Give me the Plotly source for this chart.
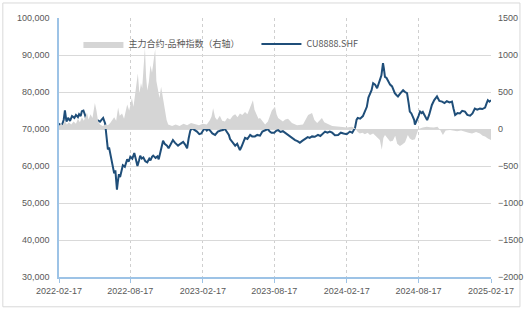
import plotly.graph_objects as go

# ---- CU8888.SHF price (left axis) ----
price_dates = [
"2022-02-17","2022-02-22","2022-02-25","2022-03-01","2022-03-04","2022-03-08","2022-03-12","2022-03-17",
"2022-03-22","2022-03-28","2022-04-01","2022-04-06","2022-04-09","2022-04-13","2022-04-16","2022-04-20",
"2022-04-24","2022-04-28","2022-05-02","2022-05-07","2022-05-12","2022-05-17","2022-05-22","2022-05-27",
"2022-06-01","2022-06-05","2022-06-09","2022-06-14","2022-06-18","2022-06-21","2022-06-24","2022-06-28",
"2022-07-01","2022-07-04","2022-07-07","2022-07-10","2022-07-14","2022-07-16","2022-07-19","2022-07-22",
"2022-07-26","2022-07-29","2022-08-03","2022-08-09","2022-08-13","2022-08-17","2022-08-22","2022-08-27",
"2022-08-31","2022-09-04","2022-09-08","2022-09-11","2022-09-15","2022-09-19","2022-09-24","2022-09-29",
"2022-10-04","2022-10-07","2022-10-11","2022-10-14","2022-10-20","2022-10-25","2022-10-28","2022-11-01",
"2022-11-04","2022-11-08","2022-11-12","2022-11-18","2022-11-22","2022-11-26","2022-12-01","2022-12-03",
"2022-12-08","2022-12-12","2022-12-16","2022-12-22","2022-12-29","2023-01-03","2023-01-08","2023-01-12",
"2023-01-16","2023-01-20","2023-01-26","2023-02-02","2023-02-08","2023-02-13","2023-02-17","2023-02-22",
"2023-02-27","2023-03-03","2023-03-07","2023-03-13","2023-03-20","2023-03-24","2023-03-27","2023-04-03",
"2023-04-09","2023-04-14","2023-04-19","2023-04-24","2023-04-27","2023-05-03","2023-05-10","2023-05-15",
"2023-05-19","2023-05-22","2023-05-26","2023-06-01","2023-06-04","2023-06-10","2023-06-17","2023-06-22",
"2023-06-29","2023-07-05","2023-07-12","2023-07-18","2023-07-25","2023-08-01","2023-08-05","2023-08-10",
"2023-08-17","2023-08-22","2023-08-27","2023-09-02","2023-09-08","2023-09-13","2023-09-19","2023-09-26",
"2023-10-02","2023-10-09","2023-10-15","2023-10-21","2023-10-27","2023-11-03","2023-11-10","2023-11-15",
"2023-11-21","2023-11-28","2023-12-06","2023-12-12","2023-12-18","2023-12-24","2023-12-30","2024-01-05",
"2024-01-11","2024-01-18","2024-01-26","2024-02-02","2024-02-09","2024-02-17","2024-02-25","2024-03-02",
"2024-03-09","2024-03-13","2024-03-16","2024-03-22","2024-03-29","2024-04-03","2024-04-08","2024-04-12",
"2024-04-16","2024-04-20","2024-04-24","2024-04-29","2024-05-04","2024-05-08","2024-05-11","2024-05-15",
"2024-05-19","2024-05-21","2024-05-24","2024-05-28","2024-06-01","2024-06-06","2024-06-11","2024-06-14",
"2024-06-18","2024-06-22","2024-06-26","2024-07-02","2024-07-09","2024-07-14","2024-07-19","2024-07-23",
"2024-07-26","2024-07-30","2024-08-03","2024-08-06","2024-08-08","2024-08-13","2024-08-17","2024-08-21",
"2024-08-25","2024-08-28","2024-09-03","2024-09-08","2024-09-13","2024-09-20","2024-09-26","2024-10-03",
"2024-10-09","2024-10-16","2024-10-22","2024-10-28","2024-11-04","2024-11-10","2024-11-14","2024-11-18",
"2024-11-24","2024-11-30","2024-12-06","2024-12-13","2024-12-19","2024-12-26","2025-01-01","2025-01-07",
"2025-01-13","2025-01-20","2025-01-26","2025-02-02","2025-02-06","2025-02-09","2025-02-13","2025-02-17"]
price_values = [
71500,70800,71200,72500,75000,72000,73000,72200,
73500,73000,73800,73200,74000,73500,74800,75000,
73800,72300,71800,72400,71500,72200,71700,72300,
72000,72600,73000,71500,67000,64500,65000,62500,
61000,59500,58000,58800,53600,55500,57800,57000,
59500,60200,59800,61800,61200,62500,62000,63500,
61800,60000,61500,62800,62000,62300,61300,61000,
62000,61500,62500,62800,62200,62600,61800,63500,
64800,66800,66000,65500,64800,65600,66200,67000,
66300,65800,65500,66000,66500,65800,64800,67500,
69500,70200,69800,69300,68600,68800,69500,70200,
69600,70000,69600,68800,68400,69000,69300,69600,
69700,70000,69200,68400,67300,66500,65500,66000,
64800,64300,65200,66800,67600,67300,68400,68000,
68000,68400,68200,69300,69700,70000,69400,69000,
69000,69500,69700,69200,69400,69000,68700,68000,
67600,67000,66700,66300,66800,67400,67800,67600,
68000,67900,68400,68100,68800,69300,69000,69300,
69000,68300,68400,69000,68800,68600,69300,69000,
70300,72500,73000,72800,73500,74800,76000,78500,
79700,80500,82400,82000,81000,82000,83200,84500,
87800,86500,84100,83800,82800,82000,81500,80600,
79700,79200,78800,79600,80500,80000,79700,77000,
74700,74200,73400,72500,71200,72800,73500,74700,
74300,74600,73300,72400,73800,76500,77800,78800,
77600,77400,77000,77500,77200,77400,75500,73800,
74300,74200,74900,74700,73800,73600,74200,75500,
75200,75500,75400,75800,77000,77800,77400,77800]

# ---- 主力合约-品种指数 spread (right axis) ----
spread_dates = [
"2022-02-17","2022-02-22","2022-02-27","2022-03-04","2022-03-09","2022-03-14","2022-03-20","2022-03-26",
"2022-04-01","2022-04-06","2022-04-11","2022-04-16","2022-04-21","2022-04-26","2022-04-29","2022-05-03",
"2022-05-08","2022-05-13","2022-05-19","2022-05-23","2022-05-27","2022-06-01","2022-06-08","2022-06-15",
"2022-06-21","2022-06-27","2022-07-02","2022-07-07","2022-07-12","2022-07-17","2022-07-21","2022-07-27",
"2022-08-01","2022-08-05","2022-08-09","2022-08-14","2022-08-21","2022-08-25","2022-08-30","2022-09-05",
"2022-09-09","2022-09-13","2022-09-16","2022-09-20","2022-09-23","2022-09-26","2022-09-29","2022-10-03",
"2022-10-07","2022-10-11","2022-10-15","2022-10-19","2022-10-22","2022-10-26","2022-10-30","2022-11-03",
"2022-11-07","2022-11-12","2022-11-17","2022-11-21","2022-12-01","2022-12-10","2022-12-20","2022-12-30",
"2023-01-08","2023-01-18","2023-01-28","2023-02-07","2023-02-17","2023-02-27","2023-03-07","2023-03-11",
"2023-03-15","2023-03-20","2023-03-25","2023-04-01","2023-04-07","2023-04-14","2023-04-20","2023-04-27",
"2023-05-04","2023-05-10","2023-05-16","2023-05-22","2023-05-28","2023-06-04","2023-06-10","2023-06-17",
"2023-06-24","2023-06-28","2023-07-04","2023-07-08","2023-07-12","2023-07-18","2023-07-25","2023-08-01",
"2023-08-06","2023-08-11","2023-08-19","2023-08-23","2023-08-27","2023-09-02","2023-09-08","2023-09-14",
"2023-09-21","2023-10-01","2023-10-14","2023-10-29","2023-11-05","2023-11-11","2023-11-21","2023-11-27",
"2023-12-04","2023-12-10","2023-12-16","2023-12-22","2023-12-29","2024-01-11","2024-01-31","2024-02-17",
"2024-03-01","2024-03-09","2024-03-16","2024-03-21","2024-03-28","2024-04-03","2024-04-10","2024-04-16",
"2024-04-24","2024-04-29","2024-05-04","2024-05-11","2024-05-16","2024-05-20","2024-05-24","2024-05-30",
"2024-06-06","2024-06-13","2024-06-19","2024-06-24","2024-07-01","2024-07-07","2024-07-14","2024-07-21",
"2024-07-26","2024-08-01","2024-08-08","2024-08-13","2024-08-17","2024-08-28","2024-09-07","2024-09-15",
"2024-09-25","2024-10-04","2024-10-11","2024-10-18","2024-10-25","2024-11-05","2024-11-14","2024-11-23",
"2024-12-03","2024-12-13","2024-12-22","2024-12-31","2025-01-10","2025-01-20","2025-01-27","2025-02-02",
"2025-02-09","2025-02-17"]
spread_values = [
40,70,50,110,60,90,60,100,
70,140,90,160,110,180,220,130,
200,150,350,250,110,60,40,60,
50,80,120,160,110,290,180,210,
140,260,330,250,420,300,500,750,
480,620,550,820,1100,700,520,640,
860,760,900,1080,650,520,420,570,
440,250,120,60,40,60,40,70,
50,80,60,50,70,60,120,170,
280,160,120,180,110,100,150,130,
180,200,160,210,190,230,200,300,
390,260,200,140,150,110,60,100,
180,250,300,200,150,120,100,130,
140,80,50,60,120,190,215,120,
80,110,150,90,70,40,30,20,
30,10,-40,-60,-50,-70,-50,-80,
-60,-90,-120,-150,-280,-120,-80,-120,
-170,-160,-90,-200,-230,-210,-180,-80,
-130,-150,-140,-60,0,20,30,25,
20,30,-15,-80,-20,-15,-20,-30,
-20,-40,-50,-60,-40,-60,-90,-100,
-130,-150]

tick_vals = ["2022-02-17","2022-08-17","2023-02-17","2023-08-17","2024-02-17","2024-08-17","2025-02-17"]
tick_text = tick_vals
left_ticks = [30000,40000,50000,60000,70000,80000,90000,100000]
right_ticks = [-2000,-1500,-1000,-500,0,500,1000,1500]

LBL = "#595959"
AXIS_BLUE = "#9dc3e6"
FONT = "Noto Sans CJK SC, Liberation Sans, sans-serif"

fig = go.Figure()
fig.add_trace(go.Scatter(
    x=spread_dates, y=spread_values, yaxis="y2", name="主力合约-品种指数（右轴）",
    mode="lines", line=dict(width=0, color="#d0d0d0"), fill="tozeroy", fillcolor="#d5d5d5",
    hoverinfo="skip",
))
fig.add_trace(go.Scatter(
    x=price_dates, y=price_values, name="CU8888.SHF",
    mode="lines", line=dict(width=2, color="#1f4e79"), hoverinfo="skip",
))

fig.update_layout(
    width=524, height=310,
    margin=dict(l=59, r=33, t=18, b=33),
    paper_bgcolor="white", plot_bgcolor="white",
    font=dict(family=FONT, size=9, color=LBL),
    showlegend=True, hovermode=False,
    legend=dict(orientation="h", x=0.045, y=0.9, xanchor="left", yanchor="middle",
                bgcolor="rgba(0,0,0,0)", font=dict(size=9, color=LBL),
                entrywidth=123, entrywidthmode="pixels", itemwidth=40),
    xaxis=dict(type="date", range=["2022-02-17", "2025-02-17"], automargin=False,
               tickvals=tick_vals, ticktext=tick_text,
               showgrid=True, gridcolor="#cfcfcf", griddash="dot", gridwidth=1,
               showline=True, linecolor=AXIS_BLUE, linewidth=1.5,
               ticks="outside", tickcolor=AXIS_BLUE, ticklen=4,
               tickfont=dict(size=9, color=LBL, family="Liberation Sans"),
               zeroline=False),
    yaxis=dict(range=[30000, 100000], tickvals=left_ticks, tickformat=",", automargin=False,
               showgrid=True, gridcolor="#d9d9d9", gridwidth=1,
               showline=True, linecolor=AXIS_BLUE, linewidth=1.5,
               ticks="", ticklabelstandoff=6,
               tickfont=dict(size=9, color=LBL, family="Liberation Sans"),
               zeroline=False),
    yaxis2=dict(range=[-2000, 1500], tickvals=right_ticks, overlaying="y", side="right",
                automargin=False,
                showgrid=False, showline=False, zeroline=False, ticks="", ticklabelstandoff=6,
                tickfont=dict(size=9, color=LBL, family="Liberation Sans")),
    shapes=[dict(type="rect", xref="paper", yref="paper",
                 x0=-0.13, x1=1.067, y0=-0.115, y1=1.058,
                 line=dict(color="#d9d9d9", width=1), layer="below")],
)

fig.write_html("out.html", config={"displayModeBar": False},
               post_script="document.body.style.margin='0';")
